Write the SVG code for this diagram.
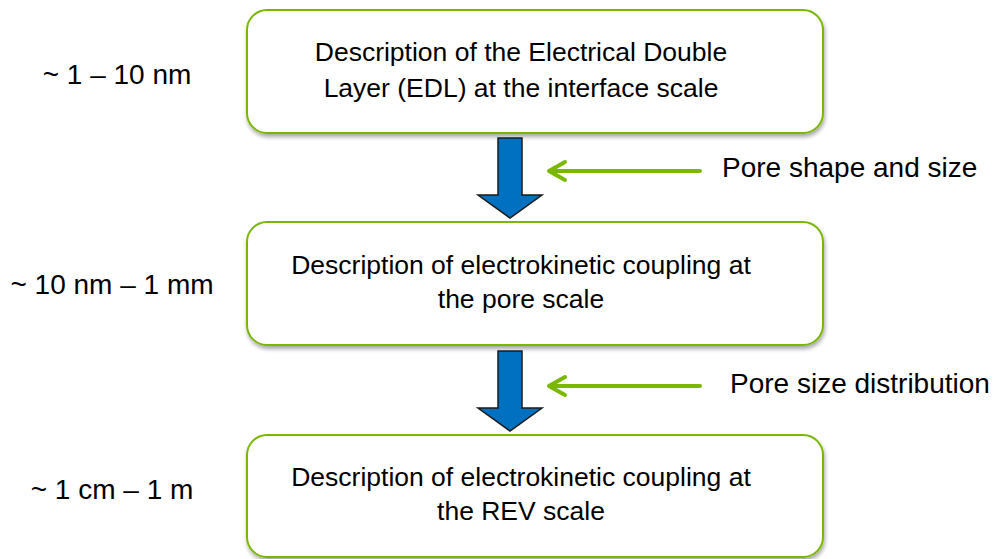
<svg xmlns="http://www.w3.org/2000/svg" width="993" height="559" viewBox="0 0 993 559">
<style>
.box{fill:#fff;stroke:#7ab800;stroke-width:2}
.t{font-family:"Liberation Sans",Arial,sans-serif;font-size:26.5px;fill:#000}
.s{font-size:28px}
.c{text-anchor:middle}
.blue{fill:#0070c0;stroke:#1a1a1a;stroke-width:1.5;stroke-linejoin:miter}
.green{stroke:#7ab800;stroke-width:4;fill:none;stroke-linecap:round;stroke-linejoin:round}
</style>
<defs>
<filter id="sh" x="-5%" y="-10%" width="110%" height="130%">
<feGaussianBlur in="SourceAlpha" stdDeviation="2"/>
<feOffset dx="1" dy="3"/>
<feComponentTransfer><feFuncA type="linear" slope="0.35"/></feComponentTransfer>
<feMerge><feMergeNode/><feMergeNode in="SourceGraphic"/></feMerge>
</filter>
</defs>
<rect width="993" height="559" fill="#fff"/>
<g id="scale1"><text class="t s c" x="117" y="84">~ 1 – 10 nm</text></g>
<g id="scale2"><text class="t s c" x="112" y="294">~ 10 nm – 1 mm</text></g>
<g id="scale3"><text class="t s c" x="112" y="499">~ 1 cm – 1 m</text></g>
<g id="node1">
<rect class="box" x="247" y="10" width="576" height="123" rx="20" filter="url(#sh)"/>
<text class="t c" x="521" y="61">Description of the Electrical Double</text>
<text class="t c" x="521" y="97">Layer (EDL) at the interface scale</text>
</g>
<g id="node2">
<rect class="box" x="247" y="222" width="576" height="123" rx="20" filter="url(#sh)"/>
<text class="t c" x="521" y="274">Description of electrokinetic coupling at</text>
<text class="t c" x="521" y="308">the pore scale</text>
</g>
<g id="node3">
<rect class="box" x="247" y="435" width="576" height="122" rx="20" filter="url(#sh)"/>
<text class="t c" x="521" y="486">Description of electrokinetic coupling at</text>
<text class="t c" x="521" y="520">the REV scale</text>
</g>
<g id="connectors">
<path class="blue" d="M498 138 H522 V195 H542 L510 218 L478 195 H498 Z"/>
<path class="blue" d="M498 351 H522 V408 H542 L510 431 L478 408 H498 Z"/>
<path class="green" d="M700 171 H549 M565 162 L549 171 L565 180"/>
<path class="green" d="M700 386 H549 M565 377 L549 386 L565 395"/>
</g>
<g id="input1"><text class="t s" x="722" y="177">Pore shape and size</text></g>
<g id="input2"><text class="t s" x="730" y="393">Pore size distribution</text></g>
</svg>
